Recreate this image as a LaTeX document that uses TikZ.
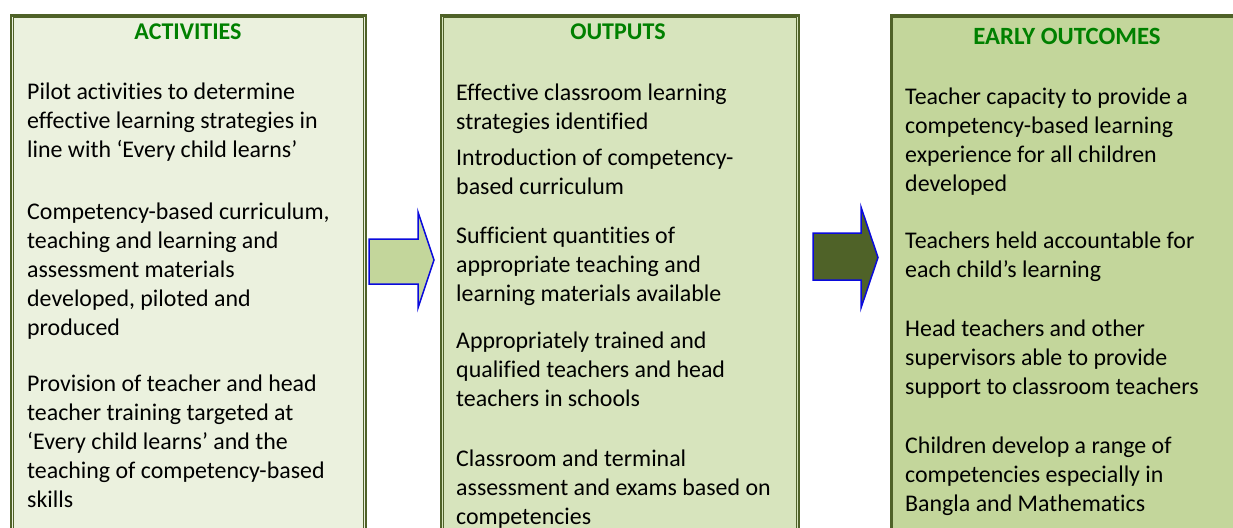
\documentclass[tikz,border=0pt]{standalone}
\usepackage{fontspec}
\setmainfont{Carlito}[Ligatures=NoCommon]

\definecolor{boxline}{HTML}{4F6228}
\definecolor{actfill}{HTML}{EBF1DE}
\definecolor{outfill}{HTML}{D7E4BD}
\definecolor{earlyfill}{HTML}{C3D69B}
\definecolor{headgreen}{HTML}{008000}
\definecolor{arrowblue}{HTML}{0A0ADC}

\tikzset{
  column/.style={draw=boxline, line width=2.4pt, anchor=north west, inner sep=0pt, minimum height=580pt},
  innerline/.style={draw=boxline, line width=1pt},
  heading/.style={font=\bfseries\fontsize{24}{29}\selectfont, text=headgreen, inner sep=0pt},
  item/.style={anchor=north west, align=left, inner sep=0pt, font=\fontsize{23.9}{29}\selectfont},
  blockarrow/.style={draw=arrowblue, line width=1.5pt, line join=miter}
}

\begin{document}
\begin{tikzpicture}[x=1pt, y=-1pt]
\clip (0,0) rectangle (1233,527);

% the three columns
\node[column, fill=actfill, minimum width=354.5pt] (act) at (10,14.5) {};
\node[column, fill=outfill, minimum width=357.7pt] (out) at (440,14.5) {};
\node[column, fill=earlyfill, minimum width=356pt] (early) at (889.5,14.5) {};
\foreach \c in {act, out, early}
  \draw[innerline] ([xshift=3.2pt, yshift=-3.2pt]\c.north west) rectangle ([xshift=-3.2pt, yshift=3.2pt]\c.south east);

% headings
\node[heading] (acthead) at (188,32) {ACTIVITIES};
\node[heading] (outhead) at (618,32) {OUTPUTS};
\node[heading, font=\bfseries\fontsize{24.8}{29}\selectfont] (earlyhead) at (1067,36) {EARLY OUTCOMES};

% activities
\node[item] (act1) at (27,83) {Pilot activities to determine\\effective learning strategies in\\line with ‘Every child learns’};
\node[item] (act2) at (27,203) {Competency-based curriculum,\\teaching and learning and\\assessment materials\\developed, piloted and\\produced};
\node[item] (act3) at (27,375) {Provision of teacher and head\\teacher training targeted at\\‘Every child learns’ and the\\teaching of competency-based\\skills};

% outputs
\node[item] (out1) at (456,84) {Effective classroom learning\\strategies identified};
\node[item] (out2) at (456,149) {Introduction of competency-\\based curriculum};
\node[item] (out3) at (456,227) {Sufficient quantities of\\appropriate teaching and\\learning materials available};
\node[item] (out4) at (456,332) {Appropriately trained and\\qualified teachers and head\\teachers in schools};
\node[item] (out5) at (456,450) {Classroom and terminal\\assessment and exams based on\\competencies};

% early outcomes
\node[item] (early1) at (905,88) {Teacher capacity to provide a\\competency-based learning\\experience for all children\\developed};
\node[item] (early2) at (905,232) {Teachers held accountable for\\each child’s learning};
\node[item] (early3) at (905,320) {Head teachers and other\\supervisors able to provide\\support to classroom teachers};
\node[item] (early4) at (905,437) {Children develop a range of\\competencies especially in\\Bangla and Mathematics};

% block arrows
\draw[blockarrow, fill=earlyfill] (369,239) -- (418,239) -- (418,212) -- (434,260) -- (418,308) -- (418,284) -- (369,284) -- cycle;
\draw[blockarrow, fill=boxline] (813,233) -- (861,233) -- (861,207) -- (878,257.5) -- (861,308) -- (861,280) -- (813,280) -- cycle;
\end{tikzpicture}
\end{document}
